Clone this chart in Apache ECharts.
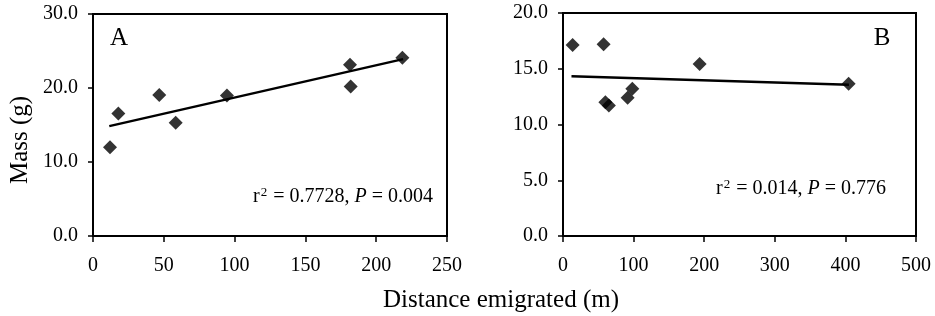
<!DOCTYPE html>
<html>
<head>
<meta charset="utf-8">
<title>Mass vs distance emigrated</title>
<script src="https://cdn.jsdelivr.net/npm/echarts@6/dist/echarts.min.js"></script>
<style>
	html, body { margin: 0; padding: 0; background: #fff; }
	#main { width: 935px; height: 316px; }
</style>
</head>
<body>
<div id="main"></div>
<script>
// panel A
var distA = [12, 17.9, 46.8, 58.4, 94.6, 181.5, 182, 218.5];
var massA = [12.0, 16.55, 19.07, 15.3, 19.0, 23.15, 20.2, 24.1];
var trendAX = [11.5, 219];
var trendAY = [14.85, 23.9];

// panel B
var distB = [13.6, 57.5, 60, 65, 91.5, 98.2, 193.5, 404.6];
var massB = [17.13, 17.2, 12.0, 11.7, 12.4, 13.2, 15.43, 13.65];
var trendBX = [12, 405];
var trendBY = [14.33, 13.56];

var statsA = ['0.7728', '0.004'];
var statsB = ['0.014', '0.776'];

var serif = 'Liberation Serif';

function pairs(xs, ys) {
	var out = [];
	for (var i = 0; i < xs.length; i++) {
		out.push([xs[i], ys[i]]);
	}
	return out;
}

function xAxisCfg(grid, max, step) {
	return {
		gridIndex : grid,
		type : 'value',
		min : 0,
		max : max,
		interval : step,
		splitLine : { show : false },
		axisLine : { lineStyle : { color : '#000', width : 2 } },
		axisTick : { inside : false, length : 6, lineStyle : { color : '#000', width : 1.5 } },
		axisLabel : { interval : 0, margin : 20, color : '#000', fontFamily : serif, fontSize : 20 }
	};
}

function yAxisCfg(grid, max, step) {
	return {
		gridIndex : grid,
		type : 'value',
		min : 0,
		max : max,
		interval : step,
		splitLine : { show : false },
		axisLine : { lineStyle : { color : '#000', width : 2 } },
		axisTick : { inside : false, length : 5, lineStyle : { color : '#000', width : 1.5 } },
		axisLabel : {
			interval : 0, margin : 15, color : '#000', fontFamily : serif, fontSize : 20,
			formatter : function(v) { return v.toFixed(1); }
		}
	};
}

// r2 / P text, superscript 2 done with a small rich token sitting high
function statText(x, y, s) {
	return {
		type : 'text',
		x : x,
		y : y,
		style : {
			text : '{t|r}{s|2}{t| = ' + s[0] + ', }{i|P}{t| = ' + s[1] + '}',
			align : 'center',
			verticalAlign : 'middle',
			rich : {
				t : { fontFamily : serif, fontSize : 20, fill : '#000', lineHeight : 22 },
				s : { fontFamily : serif, fontSize : 13, fill : '#000', lineHeight : 22, verticalAlign : 'top', padding : [0, 1, 0, 1] },
				i : { fontFamily : serif, fontSize : 20, fontStyle : 'italic', fill : '#000', lineHeight : 22 }
			}
		}
	};
}

var chart = echarts.init(document.getElementById('main'));

chart.setOption({
	backgroundColor : '#fff',
	animation : false,
	grid : [
		{ left : 93, top : 14, width : 354, height : 222, show : true, borderColor : '#000', borderWidth : 2 },
		{ left : 563, top : 13, width : 353, height : 223, show : true, borderColor : '#000', borderWidth : 2 }
	],
	xAxis : [ xAxisCfg(0, 250, 50), xAxisCfg(1, 500, 100) ],
	yAxis : [ yAxisCfg(0, 30, 10), yAxisCfg(1, 20, 5) ],
	series : [ {
		type : 'scatter',
		xAxisIndex : 0,
		yAxisIndex : 0,
		symbol : 'diamond',
		symbolSize : 14,
		itemStyle : { color : '#000' },
		data : pairs(distA, massA)
	}, {
		type : 'line',
		xAxisIndex : 0,
		yAxisIndex : 0,
		showSymbol : false,
		lineStyle : { color : '#000', width : 2.5 },
		data : pairs(trendAX, trendAY)
	}, {
		type : 'scatter',
		xAxisIndex : 1,
		yAxisIndex : 1,
		symbol : 'diamond',
		symbolSize : 14,
		itemStyle : { color : '#000' },
		data : pairs(distB, massB)
	}, {
		type : 'line',
		xAxisIndex : 1,
		yAxisIndex : 1,
		showSymbol : false,
		lineStyle : { color : '#000', width : 2.5 },
		data : pairs(trendBX, trendBY)
	} ],
	graphic : [ {
		type : 'text', x : 119, y : 38,
		style : { text : 'A', fontFamily : serif, fontSize : 25, fill : '#000', align : 'center', verticalAlign : 'middle' }
	}, {
		type : 'text', x : 882, y : 38,
		style : { text : 'B', fontFamily : serif, fontSize : 25, fill : '#000', align : 'center', verticalAlign : 'middle' }
	},
	statText(343, 197, statsA),
	statText(801, 189, statsB),
	{
		type : 'text', x : 20, y : 140, rotation : Math.PI / 2,
		style : { text : 'Mass (g)', fontFamily : serif, fontSize : 25, fill : '#000', align : 'center', verticalAlign : 'middle' }
	}, {
		type : 'text', x : 501, y : 300,
		style : { text : 'Distance emigrated (m)', fontFamily : serif, fontSize : 25, fill : '#000', align : 'center', verticalAlign : 'middle' }
	} ]
});
</script>
</body>
</html>
